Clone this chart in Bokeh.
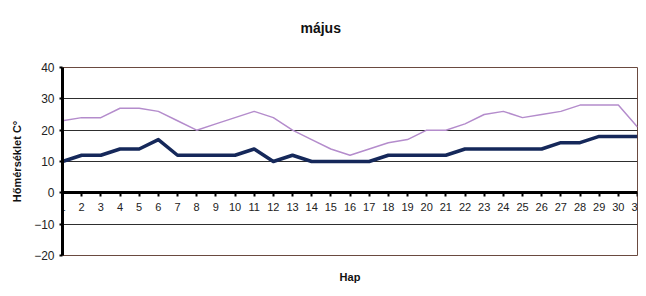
from bokeh.plotting import figure
from bokeh.models import FixedTicker, Range1d, Title
from bokeh.embed import file_html
from bokeh.resources import INLINE

days = list(range(1, 32))
t_max = [23, 24, 24, 27, 27, 26, 23, 20, 22, 24, 26, 24, 20, 17, 14, 12, 14, 16, 17, 20,
         20, 22, 25, 26, 24, 25, 26, 28, 28, 28, 21]
t_min = [10, 12, 12, 14, 14, 17, 12, 12, 12, 12, 14, 10, 12, 10, 10, 10, 10, 12, 12, 12,
         12, 14, 14, 14, 14, 14, 16, 16, 18, 18, 18]
y_ticks = [-20, -10, 0, 10, 20, 30, 40]

FONT = "Liberation Sans"

p = figure(width=645, height=295, output_backend="svg", toolbar_location=None,
           x_range=Range1d(1, 31), y_range=Range1d(-20, 40),
           min_border_left=62, min_border_right=8, min_border_top=67, min_border_bottom=40)

p.background_fill_color = "white"
p.border_fill_color = "white"
p.outline_line_color = "#6a4a40"
p.outline_line_width = 1

p.title.text = "május\n "
p.title.align = "left"
p.title.text_font = FONT
p.title.text_font_size = "14px"
p.title.text_font_style = "bold"
p.title.text_color = "#111111"
p.title.offset = 238
p.title.standoff = 32

p.line(days, t_max, line_color="#b48ccc", line_width=1.5)
p.line(days, t_min, line_color="#15285a", line_width=3.5, line_join="round")

# y axis
p.yaxis.ticker = FixedTicker(ticks=y_ticks)
p.yaxis.axis_line_width = 3
p.yaxis.axis_line_color = "black"
p.yaxis.major_tick_line_color = "black"
p.yaxis.major_tick_line_width = 2
p.yaxis.major_tick_out = 3
p.yaxis.major_tick_in = 0
p.yaxis.minor_tick_line_color = None
p.yaxis.major_label_text_font = FONT
p.yaxis.major_label_text_font_size = "12px"
p.yaxis.major_label_text_color = "#222222"
p.yaxis.major_label_standoff = 5
p.yaxis.axis_label = "Hőmérséklet C°"
p.yaxis.axis_label_text_font = FONT
p.yaxis.axis_label_text_font_size = "11px"
p.yaxis.axis_label_text_font_style = "bold"
p.yaxis.axis_label_text_color = "#111111"
p.yaxis.axis_label_standoff = 8

# x axis at y = 0
p.xaxis.ticker = FixedTicker(ticks=days)
p.xaxis.fixed_location = 0
p.xaxis.axis_line_width = 3
p.xaxis.axis_line_color = "black"
p.xaxis.major_tick_line_color = "black"
p.xaxis.major_tick_line_width = 2
p.xaxis.major_tick_out = 4
p.xaxis.major_tick_in = 0
p.xaxis.minor_tick_line_color = None
p.xaxis.major_label_text_font = FONT
p.xaxis.major_label_text_font_size = "11px"
p.xaxis.major_label_text_color = "#222222"
p.xaxis.major_label_standoff = 6

p.add_layout(Title(text="Hap", align="center", vertical_align="bottom", text_font=FONT,
                   text_font_size="11px", text_font_style="bold", text_color="#111111",
                   standoff=26), "below")

p.xgrid.grid_line_color = None
p.ygrid.ticker = FixedTicker(ticks=y_ticks)
p.ygrid.grid_line_color = "#2e2e2e"
p.ygrid.grid_line_width = 1

open("out.html", "w").write(file_html(p, INLINE))
